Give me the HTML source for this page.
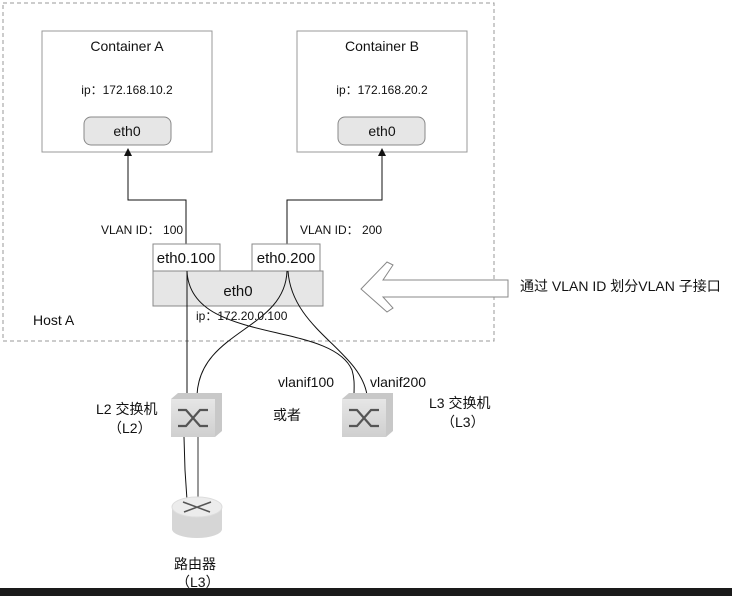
<!DOCTYPE html>
<html><head><meta charset="utf-8"><style>
body{margin:0;background:#fff;}
svg text{font-family:"Liberation Sans","Noto Sans CJK SC",sans-serif;fill:#111;}
</style></head><body>
<svg width="732" height="596" viewBox="0 0 732 596" xmlns="http://www.w3.org/2000/svg">
<defs>
<marker id="ar" markerWidth="8" markerHeight="8" refX="4" refY="4" orient="auto"><path d="M0,0 L8,4 L0,8 z" fill="#111"/></marker>
<linearGradient id="sw" x1="0" y1="0" x2="0" y2="1"><stop offset="0" stop-color="#e6e6e6"/><stop offset="1" stop-color="#cfcfcf"/></linearGradient>
</defs>
<rect x="3" y="3" width="491" height="338" fill="none" stroke="#999" stroke-dasharray="4,3"/>
<rect x="42" y="31" width="170" height="121" fill="#fff" stroke="#999"/>
<rect x="297" y="31" width="170" height="121" fill="#fff" stroke="#999"/>
<text x="127" y="51" font-size="14" text-anchor="middle">Container A</text>
<text x="382" y="51" font-size="14" text-anchor="middle">Container B</text>
<text x="127" y="94" font-size="12" text-anchor="middle">ip：172.168.10.2</text>
<text x="382" y="94" font-size="12" text-anchor="middle">ip：172.168.20.2</text>
<rect x="84" y="117" width="87" height="28" rx="7" fill="#e6e6e6" stroke="#888"/>
<rect x="338" y="117" width="87" height="28" rx="7" fill="#e6e6e6" stroke="#888"/>
<text x="127" y="136" font-size="14" text-anchor="middle">eth0</text>
<text x="382" y="136" font-size="14" text-anchor="middle">eth0</text>
<path d="M186,244 V200 H128 V152" fill="none" stroke="#111" marker-end="url(#ar)"/>
<path d="M287,244 V200 H382 V152" fill="none" stroke="#111" marker-end="url(#ar)"/>
<text x="101" y="234" font-size="12">VLAN ID： 100</text>
<text x="300" y="234" font-size="12">VLAN ID： 200</text>
<rect x="153" y="271" width="170" height="35" fill="#e6e6e6" stroke="#888"/>
<rect x="153" y="244" width="67" height="27" fill="#fff" stroke="#888"/>
<rect x="252" y="244" width="68" height="27" fill="#fff" stroke="#888"/>
<text x="186" y="263" font-size="15" text-anchor="middle">eth0.100</text>
<text x="286" y="263" font-size="15" text-anchor="middle">eth0.200</text>
<text x="238" y="296" font-size="15" text-anchor="middle">eth0</text>
<text x="196" y="320" font-size="12">ip：172.20.0.100</text>
<text x="33" y="325" font-size="14">Host A</text>
<path d="M508,280 H383 L393,265 L387,262 L361,289 L387,312 L393,308 L383,297 H508 Z" fill="#fff" stroke="#888"/>
<text x="520" y="291" font-size="14">通过 VLAN ID 划分VLAN 子接口</text>
<path d="M187,271 V395" fill="none" stroke="#111"/>
<path d="M287,271 C285,330 200,330 197,395" fill="none" stroke="#111"/>
<path d="M187,271 C190,345 330,320 352,370 C355,380 354,388 354,395" fill="none" stroke="#111"/>
<path d="M288,271 C292,330 360,350 367,395" fill="none" stroke="#111"/>
<path d="M184,437 L185,470 L187,500" fill="none" stroke="#111"/><path d="M198,437 V500" stroke="#333"/>
<text x="278" y="387" font-size="14">vlanif100</text>
<text x="370" y="387" font-size="14">vlanif200</text>
<text x="96" y="414" font-size="14">L2 交换机</text>
<text x="108" y="433" font-size="14">（L2）</text>
<text x="273" y="420" font-size="14">或者</text>
<text x="429" y="408" font-size="14">L3 交换机</text>
<text x="441" y="427" font-size="14">（L3）</text>
<g>
<path d="M171,399 L178,393 H222 V431 L215,437 Z" fill="#c8c8c8"/>
<rect x="171" y="399" width="44" height="38" fill="url(#sw)"/>
<path d="M178,410 h8 l14,16 h8 M178,426 h8 l14,-16 h8" fill="none" stroke="#555" stroke-width="2.2"/>
</g>
<g>
<path d="M342,399 L349,393 H393 V431 L386,437 Z" fill="#c8c8c8"/>
<rect x="342" y="399" width="44" height="38" fill="url(#sw)"/>
<path d="M349,410 h8 l14,16 h8 M349,426 h8 l14,-16 h8" fill="none" stroke="#555" stroke-width="2.2"/>
</g>
<path d="M172,507 V529 A25,9 0 0 0 222,529 V507" fill="#d6d6d6"/>
<ellipse cx="197" cy="507" rx="25" ry="10" fill="#ececec" stroke="#ddd"/>
<path d="M183,502 L210,512 M184,512 L211,502" stroke="#555" stroke-width="1.5"/>
<text x="174" y="569" font-size="14">路由器</text>
<text x="176" y="587" font-size="14">（L3）</text>
<rect x="0" y="588" width="732" height="8" fill="#1a1a1a"/>
</svg>
</body></html>
